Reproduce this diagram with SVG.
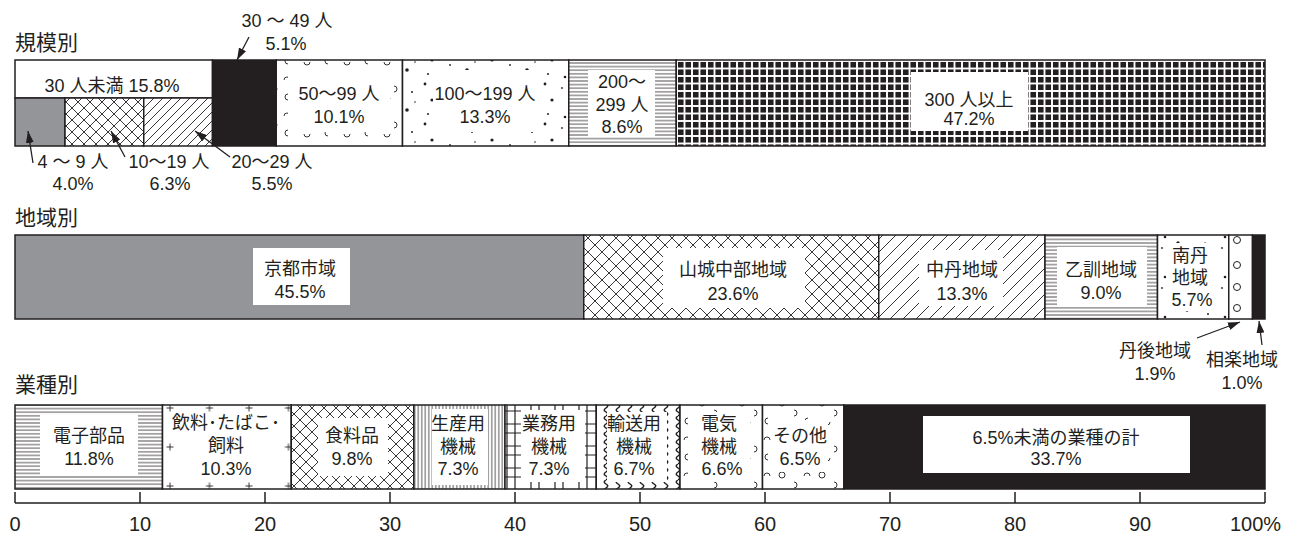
<svg xmlns="http://www.w3.org/2000/svg" width="1290" height="533" viewBox="0 0 1290 533">
<style>
text{font-family:"Liberation Sans","Noto Sans CJK JP",sans-serif;fill:#231f20;}
.t{font-size:18px;text-anchor:middle;}
.h{font-size:21px;}
.ax{font-size:20px;text-anchor:middle;}
.seg{stroke:#231f20;stroke-width:1.5;}
.box{fill:#fff;stroke:none;}
.ln{stroke:#231f20;stroke-width:1.5;fill:none;}
.arr{stroke:#231f20;stroke-width:1.3;fill:none;marker-end:url(#ah);}
.blk{fill:#231f20;}
.gry{fill:#939598;}
</style>
<defs>
<marker id="ah" viewBox="0 0 12 8" refX="12" refY="4" markerWidth="12" markerHeight="8" orient="auto" markerUnits="userSpaceOnUse"><path d="M0,0 L12,4 L0,8 z" fill="#231f20"/></marker>
<pattern id="pX" width="12" height="12" patternUnits="userSpaceOnUse"><rect width="12" height="12" fill="#fff"/><path d="M-1 -1L13 13M13 -1L-1 13" stroke="#231f20" stroke-width="0.9"/></pattern>
<pattern id="pX2" width="14" height="14" patternUnits="userSpaceOnUse"><rect width="14" height="14" fill="#fff"/><path d="M-1 -1L15 15M15 -1L-1 15" stroke="#231f20" stroke-width="0.9"/></pattern>
<pattern id="pD" width="9" height="9" patternUnits="userSpaceOnUse"><rect width="9" height="9" fill="#fff"/><path d="M-1 10L10 -1M-1 1L1 -1M8 10L10 8" stroke="#231f20" stroke-width="0.9"/></pattern>
<pattern id="pD2" width="13" height="13" patternUnits="userSpaceOnUse"><rect width="13" height="13" fill="#fff"/><path d="M-1 14L14 -1M-1 1L1 -1M12 14L14 12" stroke="#231f20" stroke-width="0.9"/></pattern>
<pattern id="pH" width="4" height="3.6" patternUnits="userSpaceOnUse"><rect width="4" height="3.6" fill="#fff"/><path d="M0 1.8H4" stroke="#231f20" stroke-width="0.8"/></pattern>
<pattern id="pV" width="3.5" height="4" patternUnits="userSpaceOnUse"><rect width="3.5" height="4" fill="#fff"/><path d="M1.75 0V4" stroke="#231f20" stroke-width="0.8"/></pattern>
<pattern id="pG" x="677" y="61" width="7.5" height="7.5" patternUnits="userSpaceOnUse"><rect width="7.5" height="7.5" fill="#fff"/><rect x="1" y="1" width="5.5" height="5.5" fill="#231f20" shape-rendering="crispEdges"/></pattern>
<pattern id="pDot" width="60" height="40" patternUnits="userSpaceOnUse"><rect width="60" height="40" fill="#fff"/><g fill="#231f20"><circle cx="5" cy="4" r="1.4"/><circle cx="22" cy="8" r="0.9"/><circle cx="38" cy="3" r="1.7"/><circle cx="52" cy="12" r="1"/><circle cx="12" cy="20" r="1.6"/><circle cx="30" cy="25" r="0.9"/><circle cx="47" cy="30" r="1.8"/><circle cx="8" cy="34" r="1"/><circle cx="25" cy="37" r="1.3"/><circle cx="55" cy="22" r="0.8"/></g></pattern>
<pattern id="pArc" width="40" height="36" patternUnits="userSpaceOnUse"><rect width="40" height="36" fill="#fff"/><g stroke="#231f20" stroke-width="0.9" fill="none"><path d="M4 8a3 3 0 0 1 6 0"/><path d="M24 26a3 3 0 0 0 6 0"/><circle cx="22" cy="7" r="3"/><path d="M8 22a3 3 0 0 0 0 6"/><path d="M34 14a3 3 0 0 1 0 6"/></g></pattern>
<pattern id="pPlus" x="166" y="404" width="39.5" height="39" patternUnits="userSpaceOnUse"><rect width="39.5" height="39" fill="#fff"/><path d="M0.5 4H7.5M4 0.5V7.5" stroke="#231f20" stroke-width="0.9"/></pattern>
<pattern id="pSq" width="12" height="16" patternUnits="userSpaceOnUse"><rect width="12" height="16" fill="#fff"/><path d="M6 0C0 4 12 4 6 8C0 12 12 12 6 16" stroke="#231f20" stroke-width="1.5" fill="none"/></pattern>
<pattern id="pBiz" width="24" height="22" patternUnits="userSpaceOnUse"><rect width="24" height="22" fill="#fff"/><path d="M3 0V22M11 0V22M0 6H24M0 15H24" stroke="#231f20" stroke-width="1.2"/></pattern>
</defs>

<g id="titles">
<text class="h" x="15" y="50">規模別</text>
<text class="h" x="15" y="225">地域別</text>
<text class="h" x="15" y="392">業種別</text>
</g>

<!-- 規模別 -->
<g id="size-under30"><rect class="seg" x="15" y="60" width="197.5" height="38" fill="#fff"/><text class="t" x="112" y="92">30 人未満 15.8%</text></g>
<g id="size-4-9"><rect class="seg gry" x="15" y="98" width="50" height="48"/><text class="t" x="73" y="168">4 ～ 9 人</text><text class="t" x="73" y="190">4.0%</text></g>
<g id="size-10-19"><rect class="seg" x="65" y="98" width="78.75" height="48" fill="url(#pX)"/><text class="t" x="169" y="168">10～19 人</text><text class="t" x="170" y="190">6.3%</text></g>
<g id="size-20-29"><rect class="seg" x="143.75" y="98" width="68.75" height="48" fill="url(#pD)"/><text class="t" x="272" y="168">20～29 人</text><text class="t" x="272" y="190">5.5%</text></g>
<g id="size-30-49"><rect class="seg blk" x="212.5" y="60" width="63.75" height="86"/><text class="t" x="287" y="27">30 ～ 49 人</text><text class="t" x="286" y="50">5.1%</text></g>
<g id="size-50-99"><rect class="seg" x="276.25" y="60" width="126.25" height="86" fill="url(#pArc)"/><rect class="box" x="288" y="72" width="102" height="60"/><text class="t" x="339" y="100">50～99 人</text><text class="t" x="339" y="123">10.1%</text></g>
<g id="size-100-199"><rect class="seg" x="402.5" y="60" width="166.25" height="86" fill="url(#pDot)"/><rect class="box" x="433" y="70" width="106" height="62"/><text class="t" x="485" y="100">100～199 人</text><text class="t" x="485" y="123">13.3%</text></g>
<g id="size-200-299"><rect class="seg" x="568.75" y="60" width="107.5" height="86" fill="url(#pH)"/><rect class="box" x="588" y="70" width="67" height="67"/><text class="t" x="622" y="88">200～</text><text class="t" x="622" y="111">299 人</text><text class="t" x="622" y="133">8.6%</text></g>
<g id="size-300"><rect class="seg" x="676.25" y="60" width="588.75" height="86" fill="url(#pG)"/><rect class="box" x="911" y="72" width="117" height="59"/><text class="t" x="969" y="106">300 人以上</text><text class="t" x="969" y="125">47.2%</text></g>

<!-- 地域別 -->
<g id="reg-kyoto"><rect class="seg gry" x="15" y="235" width="568.75" height="84"/><rect class="box" x="253" y="248" width="97" height="57"/><text class="t" x="300" y="275">京都市域</text><text class="t" x="300" y="298">45.5%</text></g>
<g id="reg-yamashiro"><rect class="seg" x="583.75" y="235" width="295" height="84" fill="url(#pX2)"/><rect class="box" x="663" y="248" width="142" height="60"/><text class="t" x="733" y="276">山城中部地域</text><text class="t" x="733" y="300">23.6%</text></g>
<g id="reg-chutan"><rect class="seg" x="878.75" y="235" width="166.25" height="84" fill="url(#pD2)"/><rect class="box" x="919" y="250" width="84" height="56"/><text class="t" x="962" y="276">中丹地域</text><text class="t" x="962" y="300">13.3%</text></g>
<g id="reg-otokuni"><rect class="seg" x="1045" y="235" width="112.5" height="84" fill="url(#pH)"/><rect class="box" x="1057" y="247" width="90" height="60"/><text class="t" x="1101" y="276">乙訓地域</text><text class="t" x="1101" y="299">9.0%</text></g>
<g id="reg-nantan"><rect class="seg" x="1157.5" y="235" width="71.25" height="84" fill="url(#pDot)"/><rect class="box" x="1166" y="243" width="52" height="68"/><text class="t" x="1190" y="262">南丹</text><text class="t" x="1190" y="284">地域</text><text class="t" x="1192" y="306">5.7%</text></g>
<g id="reg-tango"><rect class="seg" x="1228.75" y="235" width="23.75" height="84" fill="#fff"/><g fill="none" stroke="#231f20" stroke-width="1"><circle cx="1237" cy="240" r="3.5"/><circle cx="1237" cy="265" r="3.5"/><circle cx="1237" cy="287" r="3.5"/><circle cx="1237" cy="308" r="3.5"/></g><text class="t" x="1155" y="357">丹後地域</text><text class="t" x="1155" y="380">1.9%</text></g>
<g id="reg-soraku"><rect class="seg blk" x="1252.5" y="235" width="12.5" height="84"/><text class="t" x="1242" y="366">相楽地域</text><text class="t" x="1242" y="389">1.0%</text></g>

<!-- 業種別 -->
<g id="ind-denshi"><rect class="seg" x="15" y="405" width="147.5" height="84" fill="url(#pH)"/><rect class="box" x="40" y="415" width="98" height="61"/><text class="t" x="89" y="442">電子部品</text><text class="t" x="89" y="465">11.8%</text></g>
<g id="ind-inryo"><rect class="seg" x="162.5" y="405" width="128.75" height="84" fill="url(#pPlus)"/><rect class="box" x="176" y="412" width="106" height="70"/><text class="t" x="226" y="429">飲料･たばこ･</text><text class="t" x="226" y="452">飼料</text><text class="t" x="226" y="475">10.3%</text></g>
<g id="ind-shokuryo"><rect class="seg" x="291.25" y="405" width="122.5" height="84" fill="url(#pX)"/><rect class="box" x="318" y="418" width="70" height="58"/><text class="t" x="352" y="442">食料品</text><text class="t" x="352" y="465">9.8%</text></g>
<g id="ind-seisan"><rect class="seg" x="413.75" y="405" width="91.25" height="84" fill="url(#pV)"/><rect class="box" x="432" y="409" width="56" height="76"/><text class="t" x="458" y="430">生産用</text><text class="t" x="458" y="453">機械</text><text class="t" x="458" y="475">7.3%</text></g>
<g id="ind-gyomu"><rect class="seg" x="505" y="405" width="91.25" height="84" fill="url(#pBiz)"/><rect class="box" x="521" y="410" width="64" height="72"/><text class="t" x="549" y="430">業務用</text><text class="t" x="549" y="453">機械</text><text class="t" x="549" y="475">7.3%</text></g>
<g id="ind-yuso"><rect class="seg" x="596.25" y="405" width="83.75" height="84" fill="url(#pSq)"/><rect class="box" x="607" y="412" width="60" height="70"/><text class="t" x="634" y="430">輸送用</text><text class="t" x="634" y="453">機械</text><text class="t" x="634" y="475">6.7%</text></g>
<g id="ind-denki"><rect class="seg" x="680" y="405" width="82.5" height="84" fill="url(#pArc)"/><rect class="box" x="688" y="412" width="62" height="70"/><text class="t" x="719" y="430">電気</text><text class="t" x="719" y="453">機械</text><text class="t" x="722" y="475">6.6%</text></g>
<g id="ind-sonota"><rect class="seg" x="762.5" y="405" width="81.25" height="84" fill="url(#pArc)"/><rect class="box" x="772" y="420" width="56" height="52"/><text class="t" x="800" y="442">その他</text><text class="t" x="800" y="465">6.5%</text></g>
<g id="ind-other"><rect class="seg blk" x="843.75" y="405" width="421.25" height="84"/><rect class="box" x="923" y="416" width="267" height="57"/><text class="t" x="1056" y="444">6.5%未満の業種の計</text><text class="t" x="1056" y="465">33.7%</text></g>

<g id="connectors">
<line class="arr" x1="249" y1="37" x2="237" y2="60"/>
<line class="arr" x1="33" y1="163" x2="28" y2="131"/>
<line class="arr" x1="125" y1="157" x2="111" y2="131"/>
<line class="arr" x1="230" y1="157" x2="195" y2="131"/>
<line class="arr" x1="1197" y1="338" x2="1240" y2="322"/>
<line class="arr" x1="1262" y1="345" x2="1259" y2="321"/>
</g>

<g id="axis">
<path class="ln" d="M15 503H1265M15 492V503M140 492V503M265 492V503M390 492V503M515 492V503M640 492V503M765 492V503M890 492V503M1015 492V503M1140 492V503M1265 492V503"/>
<text class="ax" x="15" y="531">0</text>
<text class="ax" x="140" y="531">10</text>
<text class="ax" x="265" y="531">20</text>
<text class="ax" x="390" y="531">30</text>
<text class="ax" x="515" y="531">40</text>
<text class="ax" x="640" y="531">50</text>
<text class="ax" x="765" y="531">60</text>
<text class="ax" x="890" y="531">70</text>
<text class="ax" x="1015" y="531">80</text>
<text class="ax" x="1140" y="531">90</text>
<text class="ax" x="1230" y="531" style="text-anchor:start">100%</text>
</g>
</svg>
